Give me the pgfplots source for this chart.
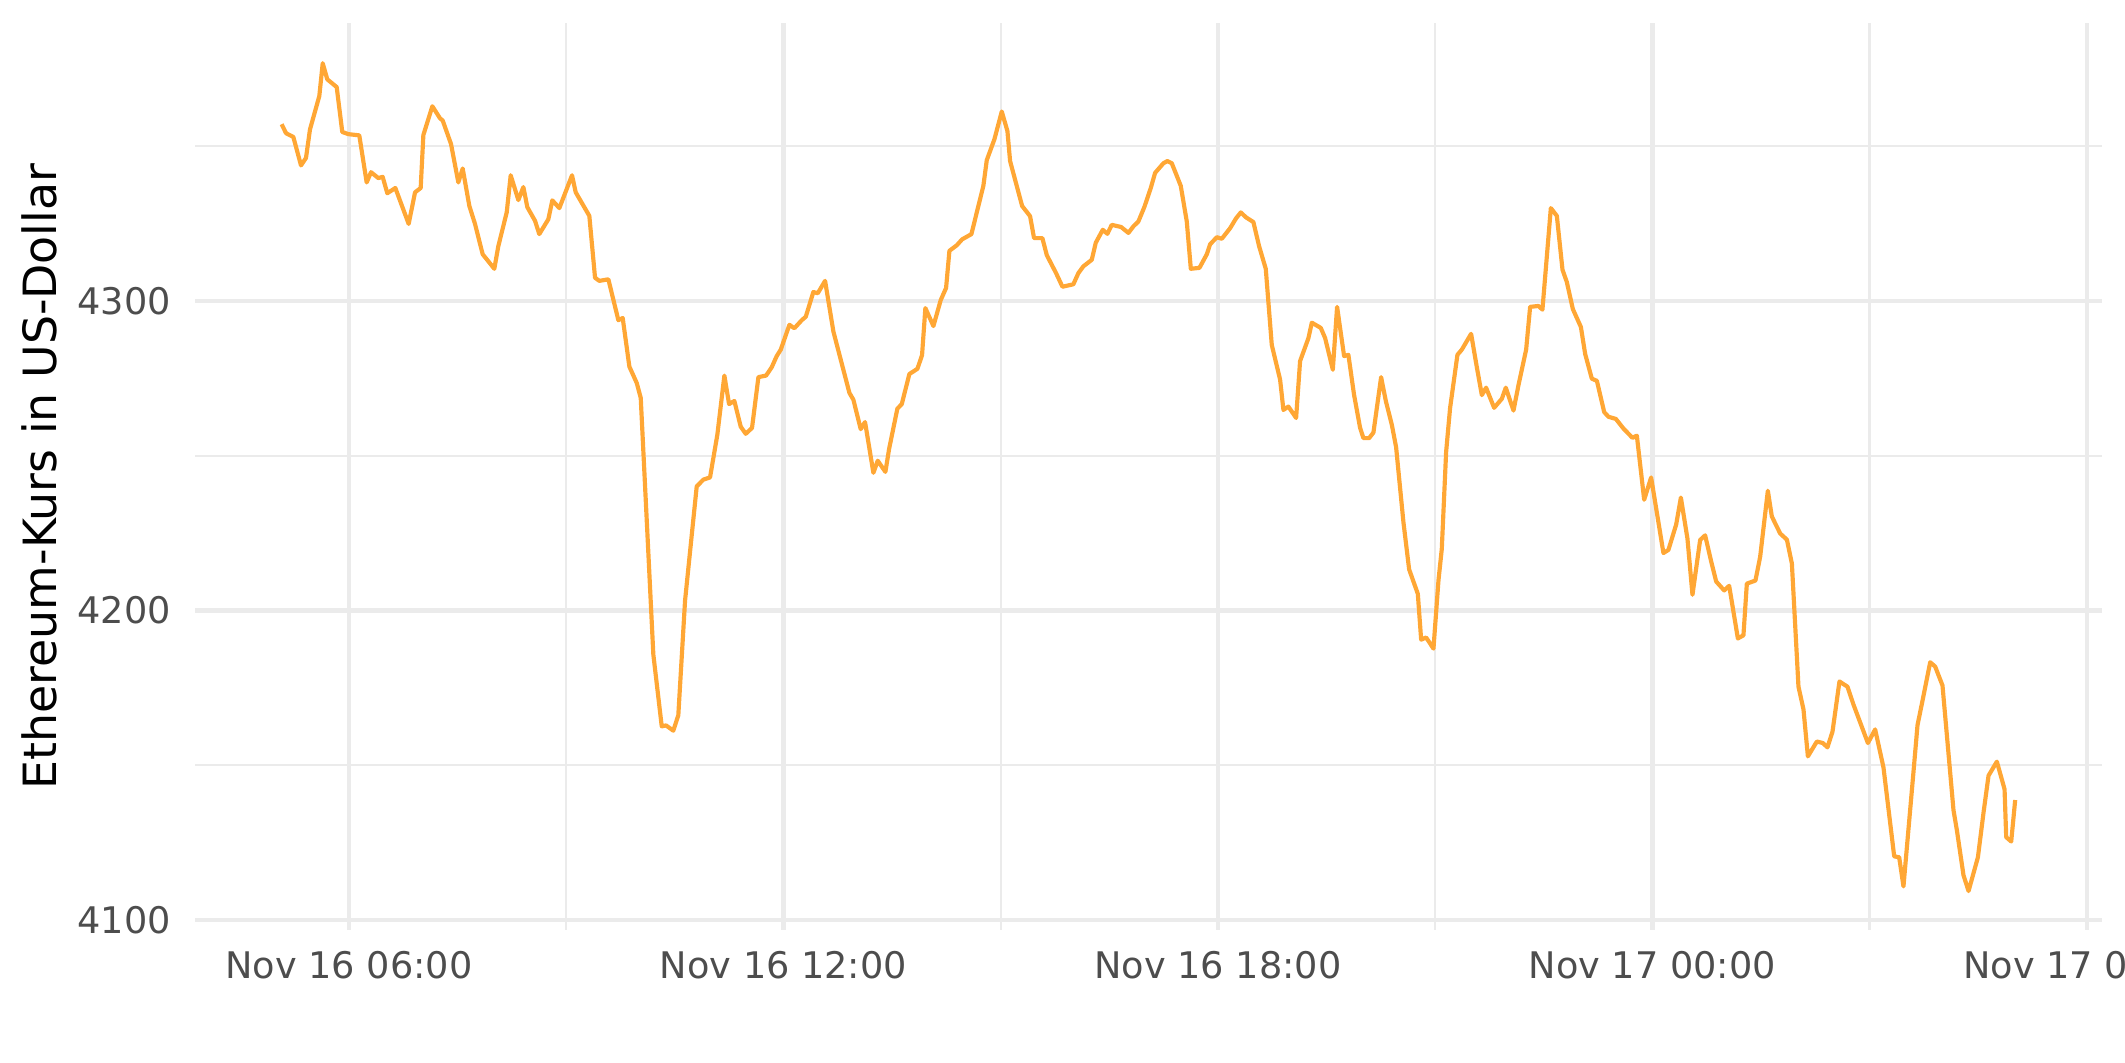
\documentclass[border=0pt]{standalone}
\usepackage{fontspec}
\setmainfont{DejaVu Sans}
\usepackage{pgfplots}
\pgfplotsset{compat=1.18}
\definecolor{gridc}{HTML}{EBEBEB}
\definecolor{ethc}{HTML}{FFA735}
\definecolor{tickc}{HTML}{4D4D4D}
\begin{document}
\begin{tikzpicture}
\begin{axis}[
 name=ax, at={(0,0)}, anchor=south west,
 scale only axis, width=457.7bp, height=217.7bp,
 xmin=3.873, xmax=30.21, ymin=4096.8, ymax=4389.8,
 axis line style={draw=none},
 major tick length=0pt, minor tick length=0pt,
 xtick={6,12,18,24,30},
 xticklabels={Nov 16 06:00, Nov 16 12:00, Nov 16 18:00, Nov 17 00:00, Nov 17 06:00},
 minor xtick={9,15,21,27},
 ytick={4100,4200,4300}, yticklabels={4100,4200,4300},
 minor ytick={4150,4250,4350},
 grid=both,
 major grid style={draw=gridc, line width=1.07bp},
 minor grid style={draw=gridc, line width=0.53bp},
 xticklabel style={font=\fontsize{8.8bp}{10bp}\selectfont, text=tickc, anchor=north, inner sep=0pt, yshift=-5bp},
 yticklabel style={font=\fontsize{8.8bp}{10bp}\selectfont, text=tickc, anchor=east, inner sep=0pt, xshift=-5.6bp},
 clip=false,
]
\addplot[color=ethc, line width=1.0bp, no markers, line join=round] table {
5.070 4357.1
5.130 4354.2
5.231 4353.0
5.337 4343.8
5.406 4346.2
5.461 4355.4
5.590 4366.2
5.637 4376.8
5.700 4371.6
5.830 4369.1
5.907 4354.6
5.990 4353.9
6.142 4353.5
6.244 4338.3
6.304 4341.6
6.405 4339.7
6.465 4340.1
6.529 4334.8
6.640 4336.5
6.824 4324.9
6.912 4335.1
6.990 4336.5
7.027 4353.6
7.151 4362.9
7.257 4359.0
7.294 4358.3
7.409 4350.7
7.510 4338.3
7.570 4342.8
7.662 4330.7
7.740 4324.9
7.846 4315.1
8.007 4310.4
8.062 4317.7
8.178 4328.6
8.233 4340.6
8.339 4332.6
8.408 4336.8
8.463 4330.3
8.569 4325.9
8.628 4321.6
8.753 4326.4
8.808 4332.5
8.905 4330.0
9.080 4340.6
9.131 4335.1
9.319 4327.5
9.398 4307.5
9.457 4306.5
9.582 4307.0
9.720 4293.8
9.780 4294.5
9.872 4278.8
9.974 4273.5
10.029 4268.7
10.203 4185.8
10.319 4162.6
10.378 4162.9
10.479 4161.2
10.548 4166.2
10.641 4203.2
10.802 4240.1
10.894 4242.3
10.986 4243.0
11.087 4256.8
11.184 4275.9
11.249 4266.7
11.322 4267.7
11.410 4259.4
11.479 4257.1
11.566 4259.0
11.654 4275.4
11.760 4275.9
11.838 4278.6
11.907 4282.2
11.963 4284.3
12.082 4292.3
12.151 4291.2
12.253 4293.8
12.308 4294.9
12.413 4302.9
12.474 4302.5
12.575 4306.5
12.690 4290.1
12.911 4270.3
12.966 4268.1
13.067 4258.6
13.127 4260.9
13.242 4244.5
13.302 4248.4
13.408 4244.8
13.459 4252.2
13.573 4265.2
13.634 4266.7
13.739 4276.4
13.850 4278.1
13.914 4282.5
13.960 4297.7
14.071 4291.9
14.172 4300.3
14.246 4304.2
14.292 4316.2
14.394 4318.0
14.467 4319.9
14.596 4321.6
14.692 4330.7
14.761 4337.2
14.808 4345.5
14.913 4352.2
15.015 4361.2
15.093 4354.9
15.130 4345.2
15.296 4330.7
15.406 4327.4
15.461 4320.3
15.576 4320.3
15.637 4314.8
15.765 4309.0
15.853 4304.6
16.004 4305.4
16.073 4309.0
16.142 4311.2
16.258 4313.3
16.313 4318.8
16.410 4323.0
16.474 4321.7
16.534 4324.6
16.663 4323.9
16.764 4322.0
16.833 4324.1
16.902 4325.7
16.985 4330.4
17.073 4336.5
17.133 4341.4
17.248 4344.5
17.303 4345.2
17.363 4344.5
17.487 4337.2
17.570 4325.7
17.626 4310.4
17.745 4310.7
17.847 4315.1
17.892 4318.3
17.985 4320.6
18.054 4320.1
18.168 4323.5
18.251 4326.7
18.316 4328.6
18.389 4327.0
18.490 4325.5
18.569 4317.7
18.661 4310.4
18.744 4285.8
18.859 4274.6
18.905 4264.8
18.974 4265.9
19.080 4262.2
19.135 4280.6
19.250 4288.0
19.297 4293.0
19.421 4291.3
19.481 4288.0
19.587 4277.8
19.646 4298.1
19.743 4282.2
19.802 4282.6
19.881 4269.6
19.964 4259.0
20.010 4255.7
20.088 4255.7
20.148 4257.5
20.254 4275.4
20.319 4267.7
20.402 4260.0
20.461 4252.8
20.562 4228.6
20.641 4213.3
20.761 4205.4
20.807 4190.6
20.876 4191.3
20.977 4187.7
21.046 4209.7
21.092 4219.9
21.152 4251.3
21.207 4265.5
21.308 4282.6
21.369 4284.3
21.497 4289.4
21.576 4278.6
21.645 4269.6
21.704 4272.0
21.815 4265.5
21.921 4268.4
21.976 4272.0
22.082 4264.6
22.151 4272.8
22.257 4284.3
22.312 4298.1
22.427 4298.4
22.482 4297.2
22.598 4330.0
22.681 4327.5
22.759 4310.1
22.819 4306.1
22.902 4297.4
23.013 4291.6
23.072 4282.9
23.164 4274.9
23.234 4274.2
23.335 4264.1
23.394 4262.6
23.496 4261.9
23.601 4258.8
23.725 4255.8
23.786 4256.5
23.887 4235.8
23.983 4243.0
24.153 4218.6
24.222 4219.6
24.329 4227.8
24.394 4236.5
24.485 4223.2
24.554 4205.1
24.660 4222.8
24.729 4224.3
24.812 4215.9
24.881 4209.4
24.992 4206.5
25.061 4208.0
25.181 4191.0
25.258 4192.0
25.305 4208.7
25.424 4209.7
25.489 4217.4
25.595 4238.7
25.650 4230.4
25.765 4224.9
25.858 4222.9
25.927 4215.2
26.018 4175.4
26.087 4168.1
26.148 4152.9
26.272 4157.7
26.355 4157.2
26.418 4155.8
26.488 4160.9
26.584 4177.1
26.695 4175.4
26.778 4169.6
26.977 4157.2
27.077 4161.6
27.192 4149.3
27.340 4120.6
27.409 4120.3
27.468 4110.9
27.606 4147.8
27.662 4163.0
27.745 4172.5
27.837 4183.3
27.906 4181.9
28.007 4175.8
28.159 4135.5
28.206 4129.0
28.297 4114.5
28.367 4109.4
28.496 4120.3
28.574 4134.8
28.643 4146.7
28.758 4151.2
28.864 4142.3
28.887 4126.8
28.956 4125.4
29.011 4138.8
};
\end{axis}
\node[rotate=90, anchor=south, inner sep=0pt, font=\fontsize{11bp}{13bp}\selectfont] at ([xshift=-32.8bp]ax.west) {Ethereum-Kurs in US-Dollar};
\pgfresetboundingbox
\path[use as bounding box] (-46.8bp,-31.68bp) rectangle (463.22bp,223.22bp);
\end{tikzpicture}
\end{document}
